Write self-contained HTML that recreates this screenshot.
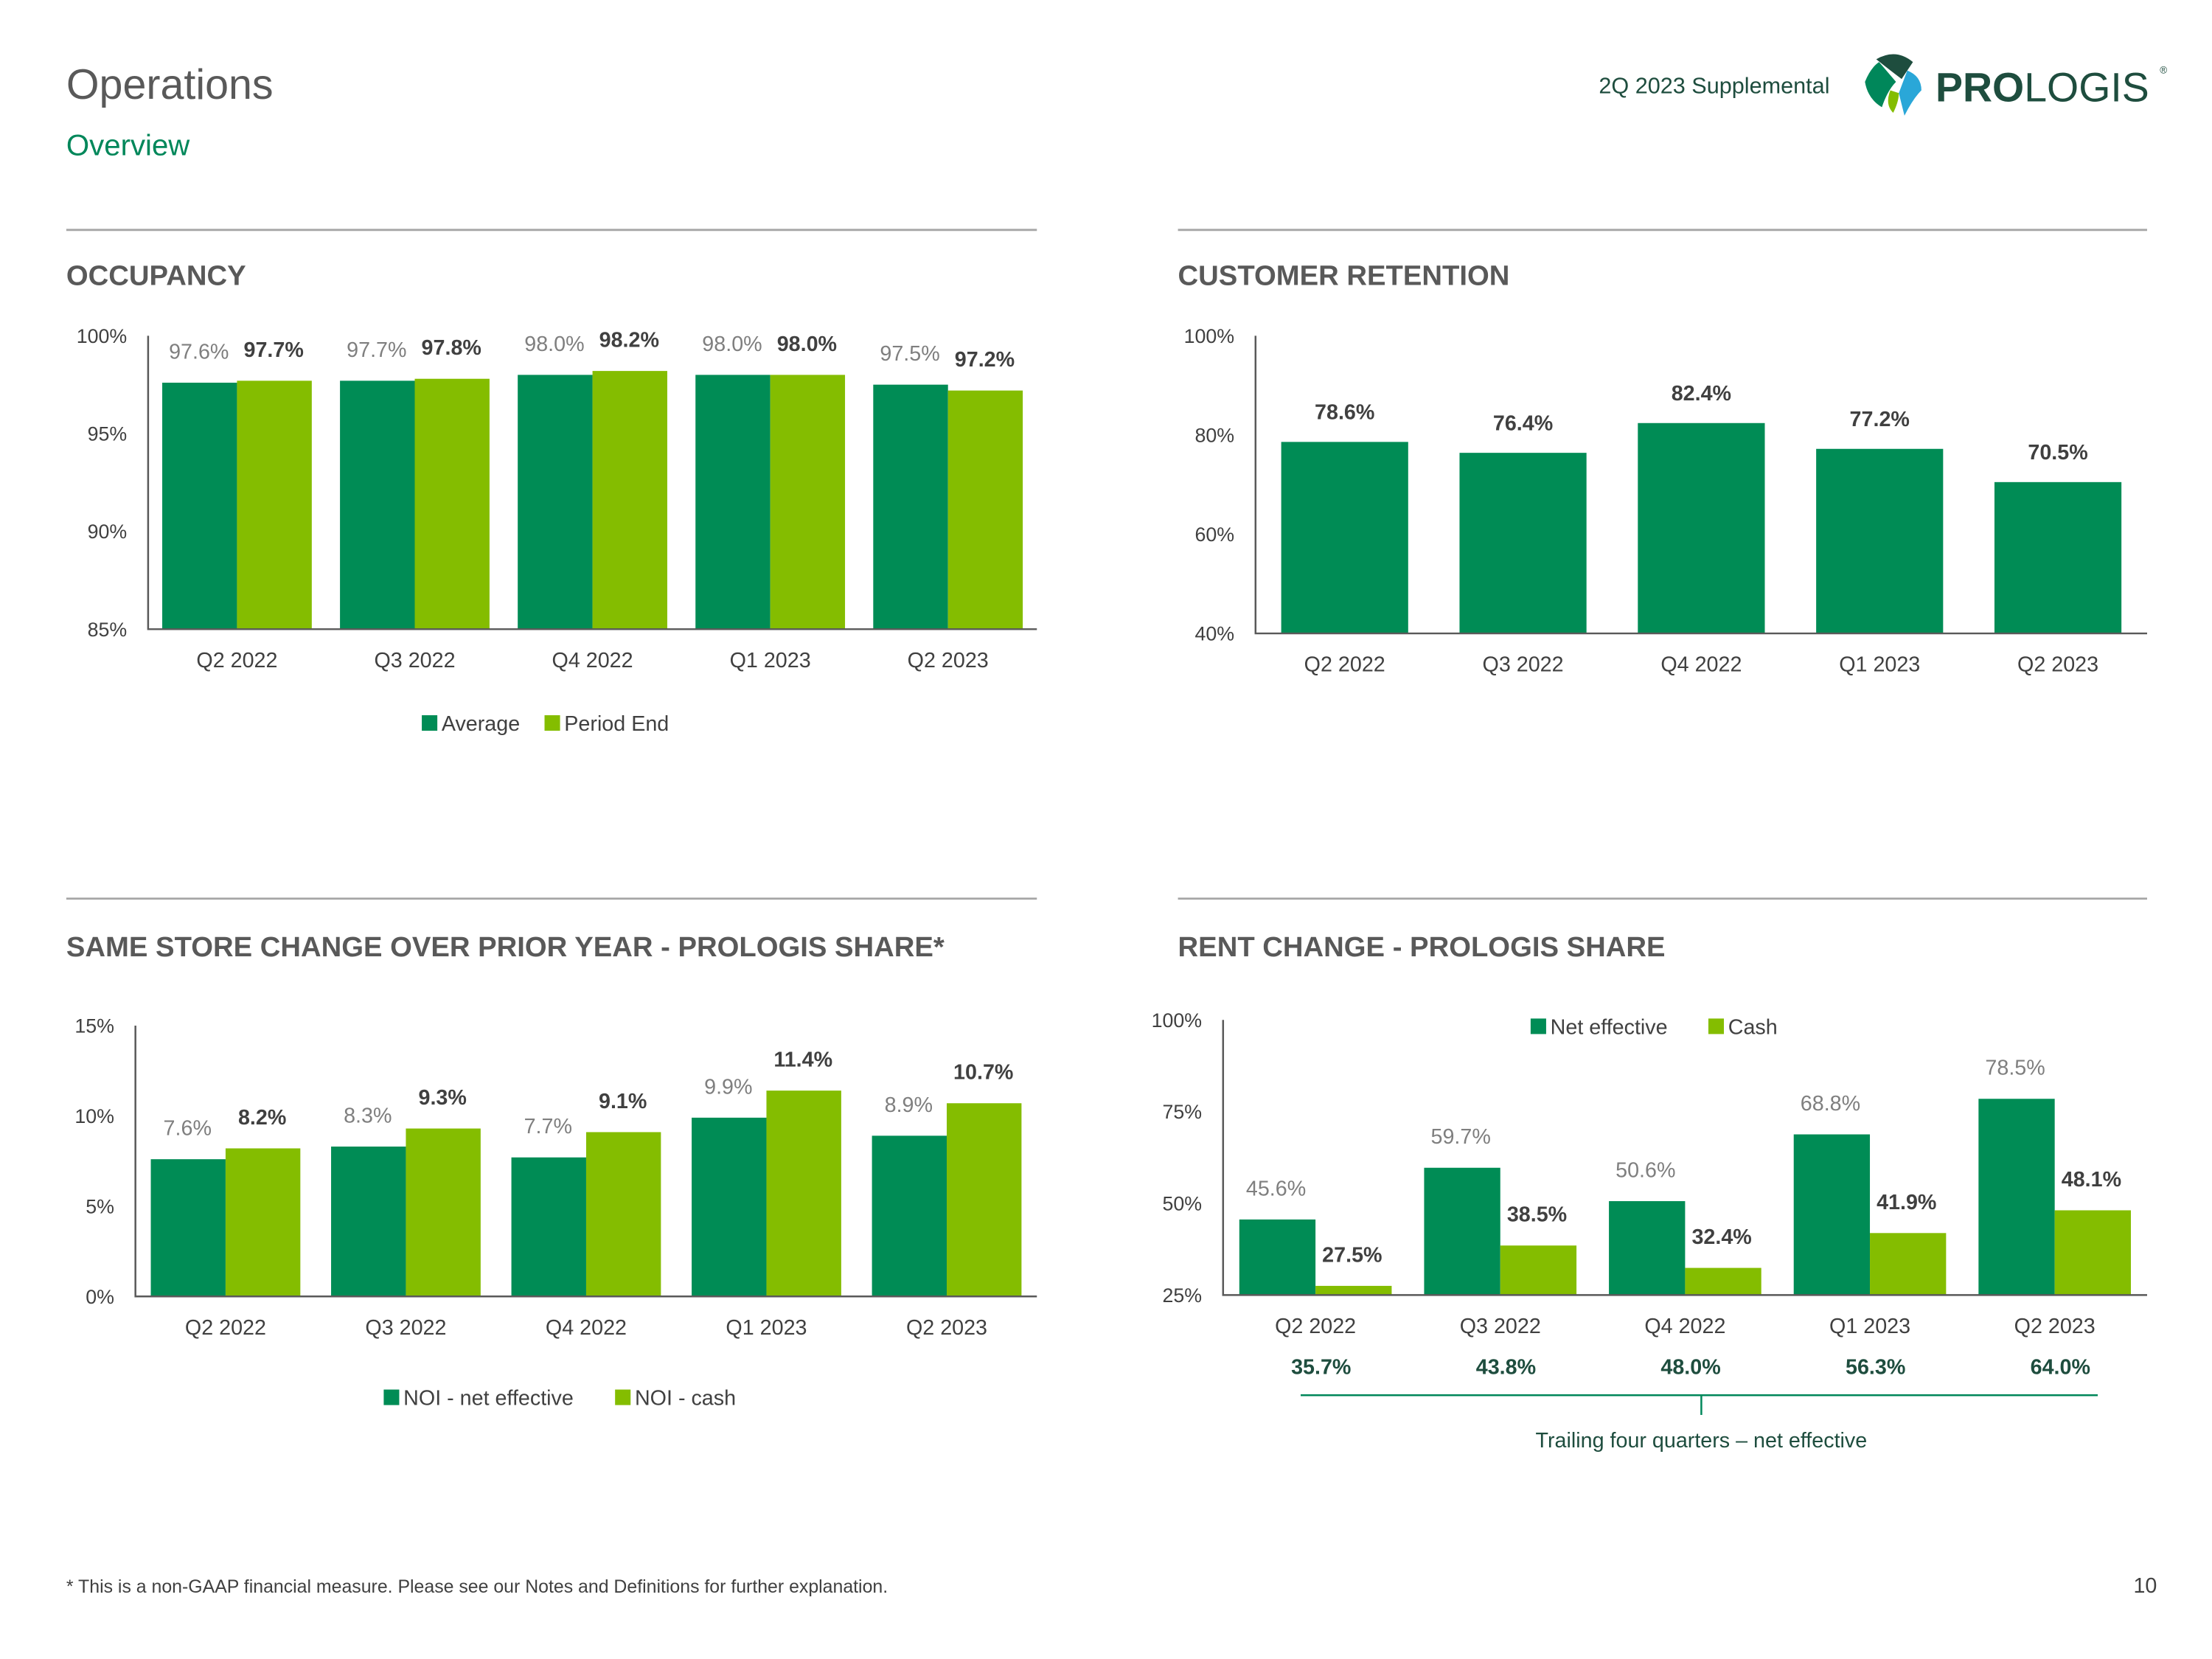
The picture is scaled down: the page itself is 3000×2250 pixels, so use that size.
<!DOCTYPE html>
<html><head><meta charset="utf-8"><style>
html,body{margin:0;padding:0;background:#fff;}
svg{display:block;font-family:"Liberation Sans",sans-serif;}
</style></head><body>
<svg id="s" width="3000" height="2250" viewBox="0 0 1568 1176" xmlns="http://www.w3.org/2000/svg">
<text x="47" y="70" font-size="30" fill="#595959">Operations</text>
<text x="47" y="110" font-size="21" fill="#00875a">Overview</text>
<text x="1297" y="66" font-size="16" fill="#1e4d3e" text-anchor="end">2Q 2023 Supplemental</text>
<g>
<path d="M1330 42 q14 -8 26 2 l-8 12 q-8 -6 -18 -14z" fill="#1e4d3e"/>
<path d="M1322 58 q4 -10 10 -14 l12 14 q-6 6 -10 18 q-10 -6 -12 -18z" fill="#00875a"/>
<path d="M1352 50 q10 4 10 14 q-6 6 -12 18 l-4 -16z" fill="#2aa7d8"/>
<path d="M1340 64 q-4 10 2 16 q4 -8 4 -14z" fill="#84bd00"/>
<text x="1372" y="72" font-size="29" font-weight="bold" fill="#1e4d3e">PRO<tspan font-weight="normal">LOGIS</tspan></text>
<text x="1531" y="52" font-size="7" fill="#1e4d3e">®</text>
</g>
<g stroke="#a6a6a6" stroke-width="1.5">
<line x1="47" y1="163" x2="735" y2="163"/><line x1="835" y1="163" x2="1522" y2="163"/>
<line x1="47" y1="637" x2="735" y2="637"/><line x1="835" y1="637" x2="1522" y2="637"/>
</g>
<text x="47" y="202" font-size="20" font-weight="bold" fill="#595959">OCCUPANCY</text>
<text x="835" y="202" font-size="20" font-weight="bold" fill="#595959">CUSTOMER RETENTION</text>
<text x="47" y="678" font-size="20" font-weight="bold" fill="#595959">SAME STORE CHANGE OVER PRIOR YEAR - PROLOGIS SHARE*</text>
<text x="835" y="678" font-size="20" font-weight="bold" fill="#595959">RENT CHANGE - PROLOGIS SHARE</text>
<text x="47" y="1129" font-size="13" fill="#404040">* This is a non-GAAP financial measure. Please see our Notes and Definitions for further explanation.</text>
<text x="1529" y="1129" font-size="15" fill="#404040" text-anchor="end">10</text>
</svg>
<script>
const categories=["Q2 2022","Q3 2022","Q4 2022","Q1 2023","Q2 2023"];
const occAvg=[97.6,97.7,98.0,98.0,97.5];
const occEnd=[97.7,97.8,98.2,98.0,97.2];
const occTicks=[85,90,95,100];
const retention=[78.6,76.4,82.4,77.2,70.5];
const retTicks=[40,60,80,100];
const ssNet=[7.6,8.3,7.7,9.9,8.9];
const ssCash=[8.2,9.3,9.1,11.4,10.7];
const ssTicks=[0,5,10,15];
const rentNet=[45.6,59.7,50.6,68.8,78.5];
const rentCash=[27.5,38.5,32.4,41.9,48.1];
const rentTicks=[25,50,75,100];
const trailing=[35.7,43.8,48.0,56.3,64.0];

const NS="http://www.w3.org/2000/svg";
const svg=document.getElementById('s');
const DG="#008c55",LG="#84bd00";
function mk(tag,attrs,txt){const e=document.createElementNS(NS,tag);for(const k in attrs)e.setAttribute(k,attrs[k]);if(txt!==undefined)e.textContent=txt;svg.appendChild(e);return e;}

function chart(o){
  const y=v=>o.y1-(v-o.vmin)/(o.vmax-o.vmin)*(o.y1-o.y0);
  const gw=(o.x1-o.x0)/categories.length;
  o.ticks.forEach(t=>{
    const e=mk('text',{x:o.x0-15,y:y(t)+5,'font-size':14,fill:'#404040','text-anchor':'end'},t+'%');
    
    
  });
  categories.forEach((c,i)=>{
    const cx=o.x0+gw*(i+0.5);
    const e=mk('text',{x:cx,y:o.y1+27,'font-size':15,fill:'#404040','text-anchor':'middle'},c);
    
    
    o.series.forEach((s,j)=>{
      const n=o.series.length;
      const bx=n===1?cx-o.bw/2:cx-o.bw+j*o.bw;
      const v=s.vals[i];
      const r=mk('rect',{x:bx,y:y(v),width:o.bw,height:o.y1-y(v),fill:s.color});
      
      
      const t=mk('text',{x:n===1?cx:bx+26,y:y(v)-(n===1?16:17),'font-size':15,'font-weight':s.bold?'bold':'normal',fill:s.bold?'#404040':'#7f7f7f','text-anchor':'middle'},v.toFixed(1)+'%');
      
      
    });
  });
  const a=mk('path',{d:`M${o.x0} ${o.y0} V${o.y1} H${o.x1}`,stroke:'#595959','stroke-width':1.3,fill:'none'});
  
  
  return {y,gw};
}
chart({x0:105,x1:735,y0:238,y1:446,vmin:85,vmax:100,ticks:occTicks,bw:53,series:[{name:'average',vals:occAvg,color:DG},{name:'period-end',vals:occEnd,color:LG,bold:true}]});
chart({x0:890,x1:1522,y0:238,y1:449,vmin:40,vmax:100,ticks:retTicks,bw:90,series:[{name:'retention',vals:retention,color:DG,bold:true}]});
chart({x0:96,x1:735,y0:727,y1:919,vmin:0,vmax:15,ticks:ssTicks,bw:53,series:[{name:'noi-net-effective',vals:ssNet,color:DG},{name:'noi-cash',vals:ssCash,color:LG,bold:true}]});
const rc=chart({x0:867,x1:1522,y0:723,y1:918,vmin:25,vmax:100,ticks:rentTicks,bw:54,series:[{name:'net-effective',vals:rentNet,color:DG},{name:'cash',vals:rentCash,color:LG,bold:true}]});
trailing.forEach((v,i)=>{
  const e=mk('text',{x:867+rc.gw*(i+0.5)+4,y:974,'font-size':15,'font-weight':'bold',fill:'#1e4d3e','text-anchor':'middle'},v.toFixed(1)+'%');
  
  
});
const br=mk('path',{d:'M922 989 H1487 M1206 989 V1003',stroke:'#00875a','stroke-width':1.3,fill:'none'});


const tt=mk('text',{x:1206,y:1026,'font-size':15,fill:'#1e4d3e','text-anchor':'middle'},'Trailing four quarters – net effective');



function legend(items,y){
  items.forEach(it=>{
    const r=mk('rect',{x:it.x,y:y-11,width:11,height:11,fill:it.c});
    
    
    const t=mk('text',{x:it.x+14,y:y,'font-size':15,fill:'#404040'},it.t);
    
    
  });
}
legend([{x:299,c:DG,t:'Average'},{x:386,c:LG,t:'Period End'}],518);
legend([{x:272,c:DG,t:'NOI - net effective'},{x:436,c:LG,t:'NOI - cash'}],996);
legend([{x:1085,c:DG,t:'Net effective'},{x:1211,c:LG,t:'Cash'}],733);
</script>
</body></html>
